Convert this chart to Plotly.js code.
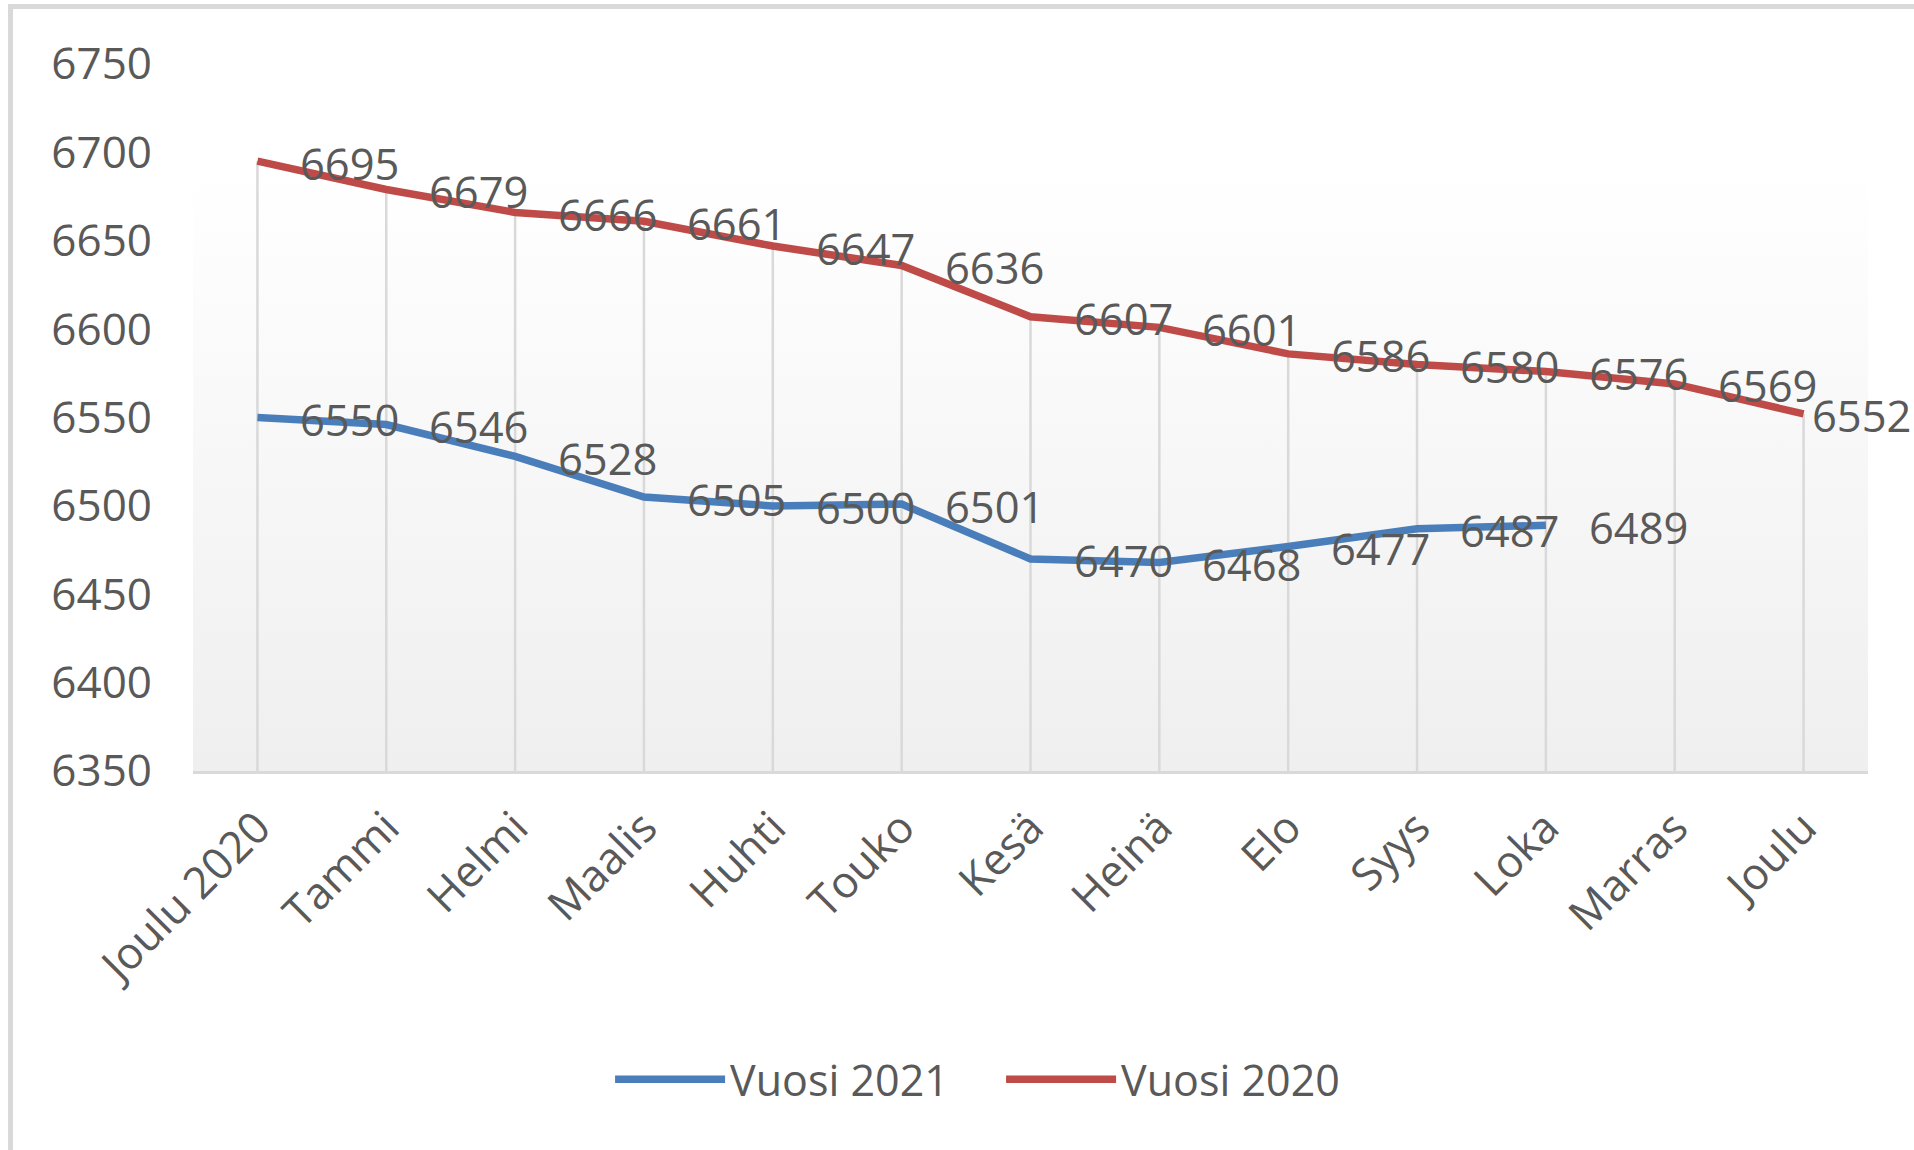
<!DOCTYPE html>
<html>
<head>
<meta charset="utf-8">
<script src="https://cdn.plot.ly/plotly-3.0.1.min.js"></script>
<style>
  html, body { margin: 0; padding: 0; background: #ffffff; overflow: hidden; }
  #wrap { position: relative; width: 1914px; height: 1150px; }
  #chart { position: absolute; left: 0; top: 0; width: 1914px; height: 1150px; }
  #frame { position: absolute; left: 8px; top: 4px; width: 1920px; height: 1160px;
           border: 5px solid #d9d9d9; box-sizing: border-box; pointer-events: none; }
</style>
</head>
<body>
<div id="wrap">
  <div id="chart"></div>
  <div id="frame"></div>
</div>
<script>
// ---- data ----
const categories = ["Joulu 2020", "Tammi", "Helmi", "Maalis", "Huhti", "Touko", "Kesä", "Heinä", "Elo", "Syys", "Loka", "Marras", "Joulu"];
const vuosi2021 = [6550, 6546, 6528, 6505, 6500, 6501, 6470, 6468, 6477, 6487, 6489];
const vuosi2020 = [6695, 6679, 6666, 6661, 6647, 6636, 6607, 6601, 6586, 6580, 6576, 6569, 6552];
const seriesNames = ["Vuosi 2021", "Vuosi 2020"];
const yTicks = [6350, 6400, 6450, 6500, 6550, 6600, 6650, 6700, 6750];

// ---- style ----
const FONT = "'Open Sans', 'Noto Sans', sans-serif";
const TEXT = "#595959";
const BLUE = "#4a7ebb";
const RED = "#be4b48";
const yMin = yTicks[0], yMax = yTicks[yTicks.length - 1];

// drop lines from the highest series value down to the axis
const dropX = [], dropY = [];
categories.forEach((c, i) => {
  const vals = [vuosi2020[i], vuosi2021[i]].filter(v => v !== undefined);
  dropX.push(c, c, null);
  dropY.push(Math.max(...vals), yMin, null);
});

const traces = [
  { type: "scatter", mode: "lines", x: dropX, y: dropY, showlegend: false, hoverinfo: "skip",
    line: { color: "#d9d9d9", width: 2.5 } },
  { type: "scatter", mode: "lines", name: seriesNames[0], x: categories.slice(0, vuosi2021.length), y: vuosi2021,
    line: { color: BLUE, width: 7.5 } },
  { type: "scatter", mode: "lines", name: seriesNames[1], x: categories, y: vuosi2020,
    line: { color: RED, width: 7.5 } }
];

// data labels (to the right of each point)
const annotations = [];
function addLabels(vals) {
  vals.forEach((v, i) => {
    const last = i === categories.length - 1;
    annotations.push({
      x: categories[i], y: v, xref: "x", yref: "y", text: String(v), showarrow: false,
      xanchor: "left", yanchor: "middle", xshift: last ? 6 : 41, yshift: -2,
      font: { family: FONT, size: 43.5, color: TEXT }
    });
  });
}
addLabels(vuosi2021);
addLabels(vuosi2020);

const gradSvg = "<svg xmlns='http://www.w3.org/2000/svg' width='10' height='100' preserveAspectRatio='none'>" +
  "<defs><linearGradient id='g' x1='0' y1='0' x2='0' y2='1'>" +
  "<stop offset='0' stop-color='#ffffff'/><stop offset='0.15' stop-color='#ffffff'/><stop offset='1' stop-color='#efefef'/>" +
  "</linearGradient></defs><rect width='10' height='100' fill='url(#g)'/></svg>";

const layout = {
  width: 1914, height: 1150,
  margin: { l: 193, r: 46, t: 63.5, b: 378.5 },
  paper_bgcolor: "rgba(0,0,0,0)",
  plot_bgcolor: "rgba(0,0,0,0)",
  font: { family: FONT, color: TEXT, size: 43 },
  showlegend: true,
  legend: {
    orientation: "h", x: 0.249, xanchor: "left", y: -0.436, yanchor: "middle",
    font: { family: FONT, size: 43, color: TEXT }, itemwidth: 110, bgcolor: "rgba(0,0,0,0)",
    entrywidth: 266, entrywidthmode: "pixels"
  },
  xaxis: {
    type: "category", range: [-0.5, categories.length - 0.5],
    showgrid: false, zeroline: false, showline: true, linecolor: "#d9d9d9", linewidth: 3,
    ticks: "", tickangle: -45, ticklabelstandoff: 10,
    tickfont: { family: FONT, size: 44, color: TEXT }, fixedrange: true
  },
  yaxis: {
    range: [yMin, yMax], tickvals: yTicks, ticktext: yTicks.map(String),
    showgrid: false, zeroline: false, showline: false, ticks: "",
    ticklabelstandoff: 40, tickfont: { family: FONT, size: 44, color: TEXT }, fixedrange: true
  },
  annotations: annotations,
  images: [{
    source: "data:image/svg+xml;charset=utf-8," + encodeURIComponent(gradSvg),
    xref: "paper", yref: "paper", x: 0, y: 1, sizex: 1, sizey: 1,
    xanchor: "left", yanchor: "top", sizing: "stretch", layer: "below"
  }]
};

Plotly.newPlot("chart", traces, layout, { displayModeBar: false, staticPlot: true });
</script>
</body>
</html>
